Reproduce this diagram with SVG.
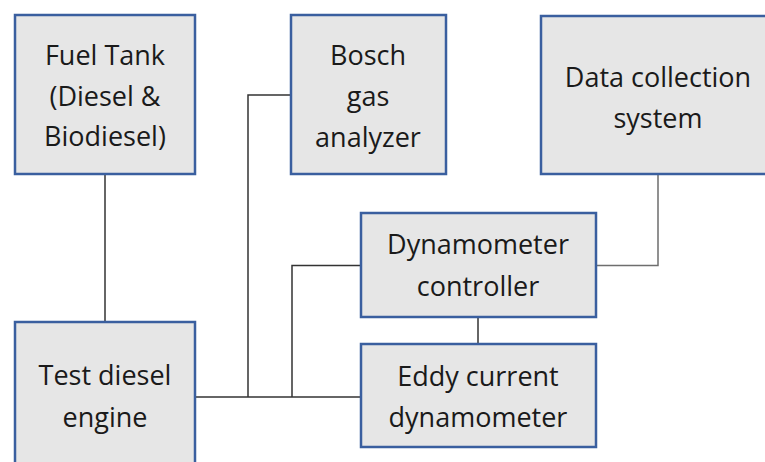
<svg xmlns="http://www.w3.org/2000/svg" width="765" height="462" viewBox="0 0 765 462">
<style>
.box{fill:#e6e6e6;stroke:#3a5f9f;stroke-width:2.5}
.t{font-family:"Open Sans","Noto Sans",sans-serif;font-size:27px;fill:#1a1a1a;text-anchor:middle}
.c{fill:none;stroke:#333;stroke-width:1.5}
</style>
<rect width="765" height="462" fill="#fff"/>
<g id="connectors">
<path class="c" d="M105,174V322"/>
<path class="c" d="M194,397H361"/>
<path class="c" d="M248,397V95H290"/>
<path class="c" d="M292,397V265.5H361"/>
<path class="c" d="M596,265.5H658V174" style="stroke:#6e6e6e"/>
<path class="c" d="M478,317V344"/>
</g>
<g id="fuel-tank">
<rect class="box" x="15" y="15" width="180" height="159"/>
<text class="t" x="105" y="65">Fuel Tank</text>
<text class="t" x="105" y="106">(Diesel &amp;</text>
<text class="t" x="105" y="146">Biodiesel)</text>
</g>
<g id="bosch">
<rect class="box" x="291" y="15" width="155" height="159"/>
<text class="t" x="368" y="65">Bosch</text>
<text class="t" x="368" y="106">gas</text>
<text class="t" x="368" y="147">analyzer</text>
</g>
<g id="data-collection">
<rect class="box" x="541" y="16" width="240" height="158"/>
<text class="t" x="658" y="87">Data collection</text>
<text class="t" x="658" y="128">system</text>
</g>
<g id="test-engine">
<rect class="box" x="15" y="322" width="180" height="150"/>
<text class="t" x="105" y="385">Test diesel</text>
<text class="t" x="105" y="427">engine</text>
</g>
<g id="dyn-controller">
<rect class="box" x="361" y="213" width="235" height="104"/>
<text class="t" x="478" y="254">Dynamometer</text>
<text class="t" x="478" y="296">controller</text>
</g>
<g id="eddy">
<rect class="box" x="361" y="344" width="235" height="103"/>
<text class="t" x="478" y="386">Eddy current</text>
<text class="t" x="478" y="427">dynamometer</text>
</g>
</svg>
